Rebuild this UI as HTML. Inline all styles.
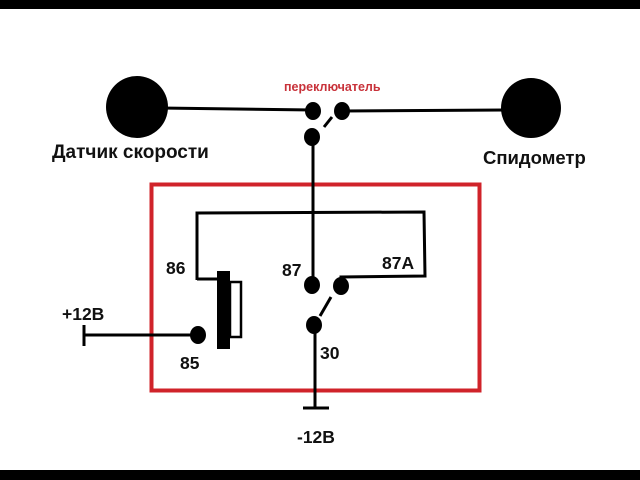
<!DOCTYPE html>
<html><head><meta charset="utf-8"><style>
html,body{margin:0;padding:0;background:#fff;width:640px;height:480px;overflow:hidden}
text{font-family:"Liberation Sans","DejaVu Sans",sans-serif;font-weight:bold;fill:#111}
</style></head><body>
<svg width="640" height="480" viewBox="0 0 640 480" xmlns="http://www.w3.org/2000/svg">
<rect x="0" y="0" width="640" height="9" fill="#000"/>
<rect x="0" y="470" width="640" height="10" fill="#000"/>
<rect x="151.5" y="184.5" width="328" height="206" fill="none" stroke="#d0232a" stroke-width="4"/>
<g stroke="#000" stroke-width="3" fill="none">
<line x1="160" y1="108" x2="313" y2="110"/>
<line x1="342" y1="111" x2="505" y2="110"/>
<line x1="324" y1="127" x2="332" y2="117"/>
<line x1="313" y1="137" x2="313" y2="285"/>
<polyline points="197,280 197,213 424,212 425,276 341,277 341,286"/>
<polyline points="197,279 218,279"/>
<rect x="230" y="282" width="11" height="55" stroke-width="2.5"/>
<line x1="84" y1="335" x2="198" y2="335"/>
<line x1="84" y1="325" x2="84" y2="346"/>
<line x1="320" y1="316" x2="331" y2="297"/>
<line x1="315" y1="325" x2="315" y2="408"/>
<line x1="303" y1="408" x2="329" y2="408"/>
</g>
<rect x="217" y="271" width="13" height="78" fill="#000"/>
<circle cx="137" cy="107" r="31" fill="#000"/>
<circle cx="531" cy="108" r="30" fill="#000"/>
<ellipse cx="313" cy="111" rx="8" ry="9" fill="#000"/>
<ellipse cx="342" cy="111" rx="8" ry="9" fill="#000"/>
<ellipse cx="312" cy="137" rx="8" ry="9" fill="#000"/>
<ellipse cx="312" cy="285" rx="8" ry="9" fill="#000"/>
<ellipse cx="341" cy="286" rx="8" ry="9" fill="#000"/>
<ellipse cx="314" cy="325" rx="8" ry="9" fill="#000"/>
<ellipse cx="198" cy="335" rx="8" ry="9" fill="#000"/>
<text x="284" y="91" font-size="12.5" style="fill:#c8323a">переключатель</text>
<text x="52" y="158" font-size="19">Датчик скорости</text>
<text x="483" y="164" font-size="18.5">Спидометр</text>
<text x="166" y="274" font-size="17.5">86</text>
<text x="282" y="276" font-size="17.5">87</text>
<text x="382" y="269" font-size="17.5">87A</text>
<text x="180" y="369" font-size="17.5">85</text>
<text x="320" y="359" font-size="17.5">30</text>
<text x="62" y="320" font-size="17.5">+12B</text>
<text x="297" y="443" font-size="17.5">-12B</text>
</svg>
</body></html>
